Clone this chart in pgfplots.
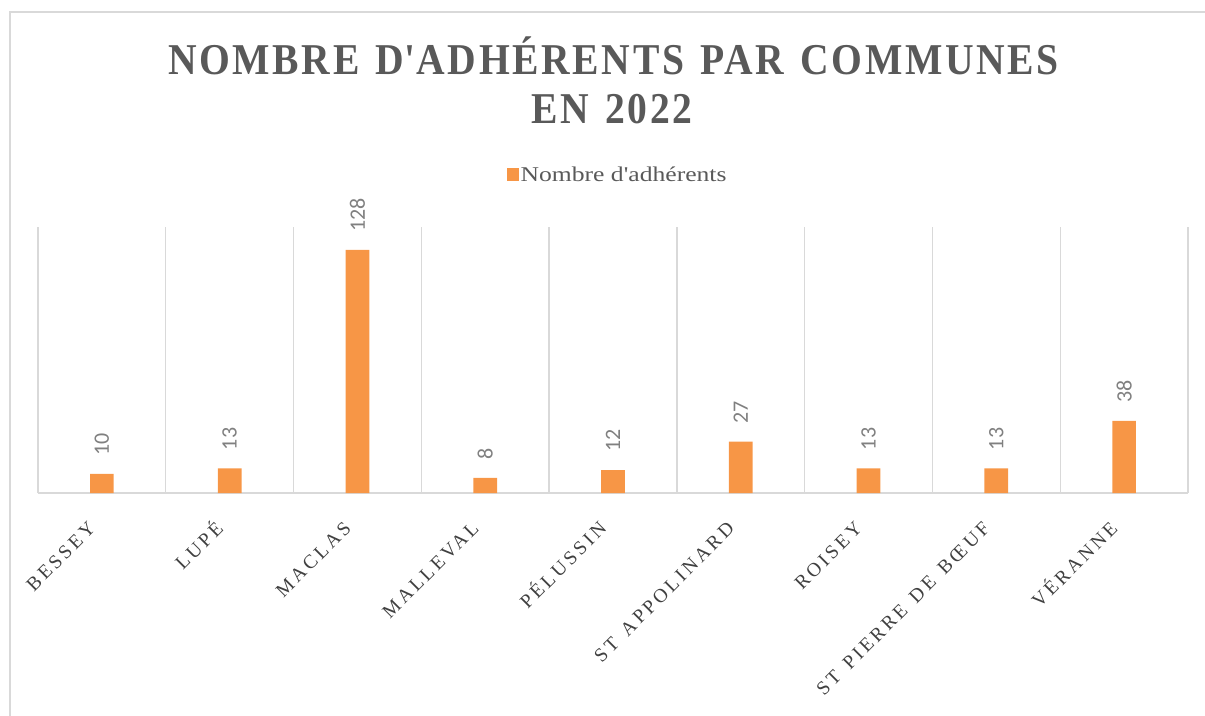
\documentclass[border=0pt]{standalone}
\usepackage{fontspec}
\setmainfont{Liberation Serif}
\newfontfamily\labfont{Carlito}
\newfontfamily\tickfont{Liberation Serif}[LetterSpace=16, WordSpace=1.4]
\newfontfamily\legfont{Liberation Serif}[FakeStretch=1.22]
\newfontfamily\titlefont{Liberation Serif Bold}[FakeStretch=0.9, LetterSpace=6, WordSpace=1.3]
\usepackage{pgfplots}
\pgfplotsset{compat=1.18}
\definecolor{barorange}{HTML}{F79646}
\definecolor{titlegray}{HTML}{595959}
\definecolor{tickgray}{HTML}{404040}
\definecolor{gridgray}{HTML}{D9D9D9}
\definecolor{valgray}{HTML}{808080}
\begin{document}
\begin{tikzpicture}[x=1pt,y=1pt]
\useasboundingbox (0,0) rectangle (1205,715);
\draw[gridgray, line width=1.5pt] (10,-5) -- (10,703) -- (1210,703);
\node[text=titlegray, font=\titlefont\fontsize{44}{49}\selectfont, anchor=base] at (613.5,640) {NOMBRE D\textquotesingle ADHÉRENTS PAR COMMUNES};
\node[text=titlegray, font=\titlefont\fontsize{44}{49}\selectfont, anchor=base] at (612,591) {EN 2022};
\begin{axis}[
  at={(38pt,222pt)}, anchor=south west, scale only axis,
  width=1150pt, height=266pt,
  ymin=0, ymax=140, xmin=-0.5, xmax=8.5,
  ybar, bar width=23.7pt, clip=false,
  /pgf/number format/assume math mode=true,
  axis y line=none, axis x line*=bottom,
  x axis line style={draw=gridgray, line width=1.3pt, -},
  xtick={0,...,8},
  xticklabels={BESSEY, LUPÉ, MACLAS, MALLEVAL, PÉLUSSIN, ST APPOLINARD, ROISEY, ST PIERRE DE BŒUF, VÉRANNE},
  major tick length=0pt, minor tick length=0pt,
  minor xtick={-0.5,0.5,...,8.5},
  xminorgrids, minor grid style={draw=gridgray, line width=1.3pt},
  xticklabel style={xshift=-5pt, rotate=45, anchor=south east, font=\tickfont\fontsize{19.5}{20}\selectfont, text=tickgray, inner sep=0pt},
  xticklabel shift=37pt,
  nodes near coords,
  every node near coord/.append style={rotate=90, anchor=west, font=\labfont\fontsize{22}{22}\selectfont, text=valgray, inner xsep=18pt, inner ysep=0pt},
  legend style={at={(0.504,1.195)}, anchor=center, draw=none, fill=none, font=\legfont\fontsize{21}{21}\selectfont, text=titlegray},
]
\addplot[fill=barorange, draw=none,
  legend image code/.code={\fill[barorange] (-3pt,-6pt) rectangle (9pt,7pt);}]
  coordinates {(0,10) (1,13) (2,128) (3,8) (4,12) (5,27) (6,13) (7,13) (8,38)};
\addlegendentry{Nombre d'adhérents}
\end{axis}
\end{tikzpicture}
\end{document}
